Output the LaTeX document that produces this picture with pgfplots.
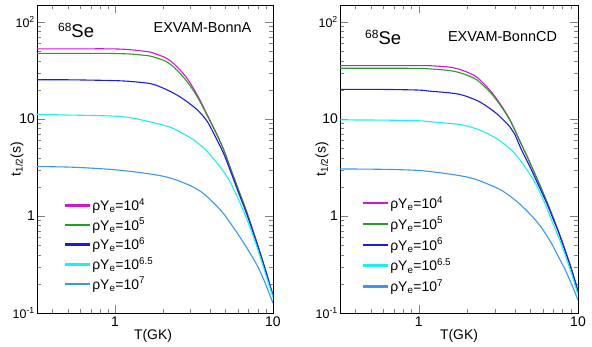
\documentclass[border=0pt]{standalone}
\usepackage{fontspec}
\setmainfont{Liberation Sans}
\usepackage{pgfplots}
\pgfplotsset{compat=1.18}
\definecolor{cmag}{HTML}{D414D4}
\definecolor{cgrn}{HTML}{2A9A2A}
\definecolor{cblu}{HTML}{1C1CE0}
\definecolor{ccya}{HTML}{1EEEEE}
\definecolor{clbl}{HTML}{3C96F0}
\newcommand{\fs}[1]{\fontsize{#1}{#1}\selectfont}
\pgfplotsset{legend image code/.code={\fill[#1] (0bp,-0.7bp) rectangle (24bp,0.7bp);}}
\begin{document}
\begin{tikzpicture}
\useasboundingbox (0,0) rectangle (592bp,347bp);
% ---------------- left: EXVAM-BonnA
\begin{axis}[xmode=log, ymode=log, scale only axis, anchor=south west,
  height=308bp, xmin=0.32, xmax=10, ymin=0.1, ymax=150,
  tick align=inside, xtick pos=both, ytick pos=both,
  xticklabel pos=lower, yticklabel pos=left,
  major tick length=8bp, minor tick length=4bp,
  axis line style={line width=0.8bp},
  xtick={1,10}, xticklabels={1,10},
  minor xtick={0.4,0.5,0.6,0.7,0.8,0.9,2,3,4,5,6,7,8,9},
  ytick={0.1,1,10,100},
  yticklabels={{\fs{12.5}10\textsuperscript{-1}},1,10,{\fs{12.5}10\textsuperscript{2}}},
  minor ytick={0.2,0.3,0.4,0.5,0.6,0.7,0.8,0.9,2,3,4,5,6,7,8,9,20,30,40,50,60,70,80,90},
  tick label style={font=\fs{14}},
  yticklabel style={inner sep=2bp},
  legend cell align=left,
  legend style={draw=none, fill=none, font=\fs{14}, row sep=2.2bp, anchor=north west, at={(rel axis cs:0.106,0.385)}},
  at={(37bp,34bp)}, width=236bp,
  xlabel={T(GK)}, ylabel={t\textsubscript{1/2}(s)},
  xlabel style={at={(rel axis cs:0.4915,-0.075)}, anchor=center, font=\fs{14}},
  ylabel style={at={(rel axis cs:-0.085,0.5)}, anchor=center, font=\fs{14}}]
\addplot[cmag, line width=1.1bp, smooth] coordinates {(0.32,53) (0.6,53) (0.9,53) (1.1,52.6) (1.26,51.8) (1.45,50.5) (1.69,48.7) (2.05,43.4) (2.25,39.5) (2.48,34.3) (2.87,26.0) (3.32,17.6) (3.84,11.0) (4.44,6.8) (4.88,4.8) (5.4,3.05) (6.0,1.92) (6.5,1.36) (7.0,0.97) (8.0,0.5) (9.0,0.27) (10,0.15)};
\addplot[cgrn, line width=1.1bp, smooth] coordinates {(0.32,47.5) (0.6,47.5) (0.9,47.5) (1.1,47.2) (1.26,46.8) (1.45,45.8) (1.69,44.4) (2.05,40) (2.25,36.5) (2.48,31.6) (2.87,24.1) (3.32,16.9) (3.84,10.8) (4.44,6.75) (4.88,4.78) (5.4,3.05) (6.0,1.92) (6.5,1.36) (7.0,0.97) (8.0,0.5) (9.0,0.27) (10,0.152)};
\addplot[cblu, line width=1.1bp, smooth] coordinates {(0.32,25.4) (0.5,25.4) (0.7,25.2) (1.0,24.9) (1.26,24.4) (1.69,23.1) (2.05,20.6) (2.48,17.6) (2.87,15.0) (3.32,12.4) (3.84,9.4) (4.44,6.0) (4.9,4.3) (5.38,2.9) (6.0,1.8) (6.5,1.29) (7.0,0.93) (8.0,0.49) (9.0,0.27) (10,0.15)};
\addplot[ccya, line width=1.1bp, smooth] coordinates {(0.32,11.2) (0.5,11.0) (0.7,10.9) (1.0,10.7) (1.26,10.3) (1.6,9.5) (1.95,8.8) (2.3,8.1) (2.6,7.3) (3.0,6.4) (3.32,5.7) (3.7,4.9) (4.03,4.2) (4.4,3.55) (4.77,3.0) (5.25,2.38) (5.7,1.82) (6.22,1.33) (7.0,0.84) (7.55,0.6) (8.3,0.378) (9.16,0.227) (10,0.145)};
\addplot[clbl, line width=1.1bp, smooth] coordinates {(0.32,3.24) (0.5,3.2) (0.7,3.12) (1.0,3.0) (1.46,2.8) (1.95,2.6) (2.36,2.4) (3.01,2.05) (3.5,1.78) (3.83,1.58) (4.4,1.27) (4.88,1.05) (5.5,0.8) (6.2,0.6) (7.0,0.44) (7.93,0.31) (8.8,0.215) (10,0.126)};
\legend{{ρY\textsubscript{e}=10\textsuperscript{4}},{ρY\textsubscript{e}=10\textsuperscript{5}},{ρY\textsubscript{e}=10\textsuperscript{6}},{ρY\textsubscript{e}=10\textsuperscript{6.5}},{ρY\textsubscript{e}=10\textsuperscript{7}}}
\end{axis}
% ---------------- right: EXVAM-BonnCD
\begin{axis}[xmode=log, ymode=log, scale only axis, anchor=south west,
  height=308bp, xmin=0.32, xmax=10, ymin=0.1, ymax=150,
  tick align=inside, xtick pos=both, ytick pos=both,
  xticklabel pos=lower, yticklabel pos=left,
  major tick length=8bp, minor tick length=4bp,
  axis line style={line width=0.8bp},
  xtick={1,10}, xticklabels={1,10},
  minor xtick={0.4,0.5,0.6,0.7,0.8,0.9,2,3,4,5,6,7,8,9},
  ytick={0.1,1,10,100},
  yticklabels={{\fs{12.5}10\textsuperscript{-1}},1,10,{\fs{12.5}10\textsuperscript{2}}},
  minor ytick={0.2,0.3,0.4,0.5,0.6,0.7,0.8,0.9,2,3,4,5,6,7,8,9,20,30,40,50,60,70,80,90},
  tick label style={font=\fs{14}},
  yticklabel style={inner sep=2bp},
  legend cell align=left,
  legend style={draw=none, fill=none, font=\fs{14}, row sep=3.4bp, anchor=north west, at={(rel axis cs:0.084,0.392)}},
  at={(340bp,34bp)}, width=238bp,
  xlabel={T(GK)}, ylabel={t\textsubscript{1/2}(s)},
  xlabel style={at={(rel axis cs:0.5,-0.073)}, anchor=center, font=\fs{14}},
  ylabel style={at={(rel axis cs:-0.0756,0.5)}, anchor=center, font=\fs{14}}]
\addplot[cmag, line width=1.1bp, smooth] coordinates {(0.32,35.6) (0.7,35.6) (1.0,35.6) (1.17,35.5) (1.57,34.3) (1.9,31.6) (2.31,27.1) (2.8,19.8) (3.23,14.5) (3.74,9.8) (4.32,5.9) (4.76,4.21) (5.2,3.05) (5.77,2.07) (6.4,1.38) (7.0,0.955) (8.0,0.53) (9.0,0.3) (10,0.168)};
\addplot[cgrn, line width=1.1bp, smooth] coordinates {(0.32,33.4) (0.7,33.4) (1.0,33.3) (1.17,32.9) (1.57,31.6) (1.9,29.3) (2.31,25.4) (2.8,19.0) (3.23,14.1) (3.74,9.7) (4.32,5.88) (4.76,4.2) (5.2,3.05) (5.77,2.07) (6.4,1.38) (7.0,0.955) (8.0,0.53) (9.0,0.3) (10,0.17)};
\addplot[cblu, line width=1.1bp, smooth] coordinates {(0.32,20.2) (0.6,20.2) (1.0,19.9) (1.17,19.4) (1.57,18.6) (1.9,17.6) (2.42,15.0) (3.08,11.4) (3.74,8.3) (4.0,7.0) (4.42,4.8) (5.0,3.2) (5.37,2.48) (6.0,1.68) (6.5,1.25) (7.0,0.92) (7.5,0.7) (8.0,0.52) (9.0,0.295) (10,0.166)};
\addplot[ccya, line width=1.1bp, smooth] coordinates {(0.32,9.8) (0.6,9.75) (1.0,9.6) (1.17,9.4) (1.57,9.0) (1.9,8.66) (2.42,7.7) (3.08,6.3) (3.74,4.95) (3.92,4.6) (4.42,3.6) (5.3,2.3) (6.2,1.35) (7.0,0.82) (7.9,0.5) (9.0,0.27) (10,0.155)};
\addplot[clbl, line width=1.1bp, smooth] coordinates {(0.32,3.06) (0.6,3.03) (1.0,2.95) (1.46,2.75) (1.95,2.55) (2.36,2.34) (3.15,1.92) (3.6,1.68) (4.2,1.38) (4.8,1.12) (5.37,0.92) (6.0,0.73) (6.83,0.52) (7.6,0.37) (8.3,0.28) (9.1,0.2) (10,0.136)};
\legend{{ρY\textsubscript{e}=10\textsuperscript{4}},{ρY\textsubscript{e}=10\textsuperscript{5}},{ρY\textsubscript{e}=10\textsuperscript{6}},{ρY\textsubscript{e}=10\textsuperscript{6.5}},{ρY\textsubscript{e}=10\textsuperscript{7}}}
\end{axis}
% panel labels
\node[anchor=base west, inner sep=0pt] at (58bp,309.7bp) {\raisebox{6bp}{\fs{12}68}\fs{18.5}Se};
\node[anchor=base west, inner sep=0pt] at (365bp,302.5bp) {\raisebox{6bp}{\fs{12}68}\fs{18.5}Se};
\node[anchor=center, inner sep=0pt, font=\fs{14.5}] at (202.5bp,319bp) {EXVAM-BonnA};
\node[anchor=center, inner sep=0pt, font=\fs{14.5}] at (502.5bp,310.3bp) {EXVAM-BonnCD};
\end{tikzpicture}
\end{document}
